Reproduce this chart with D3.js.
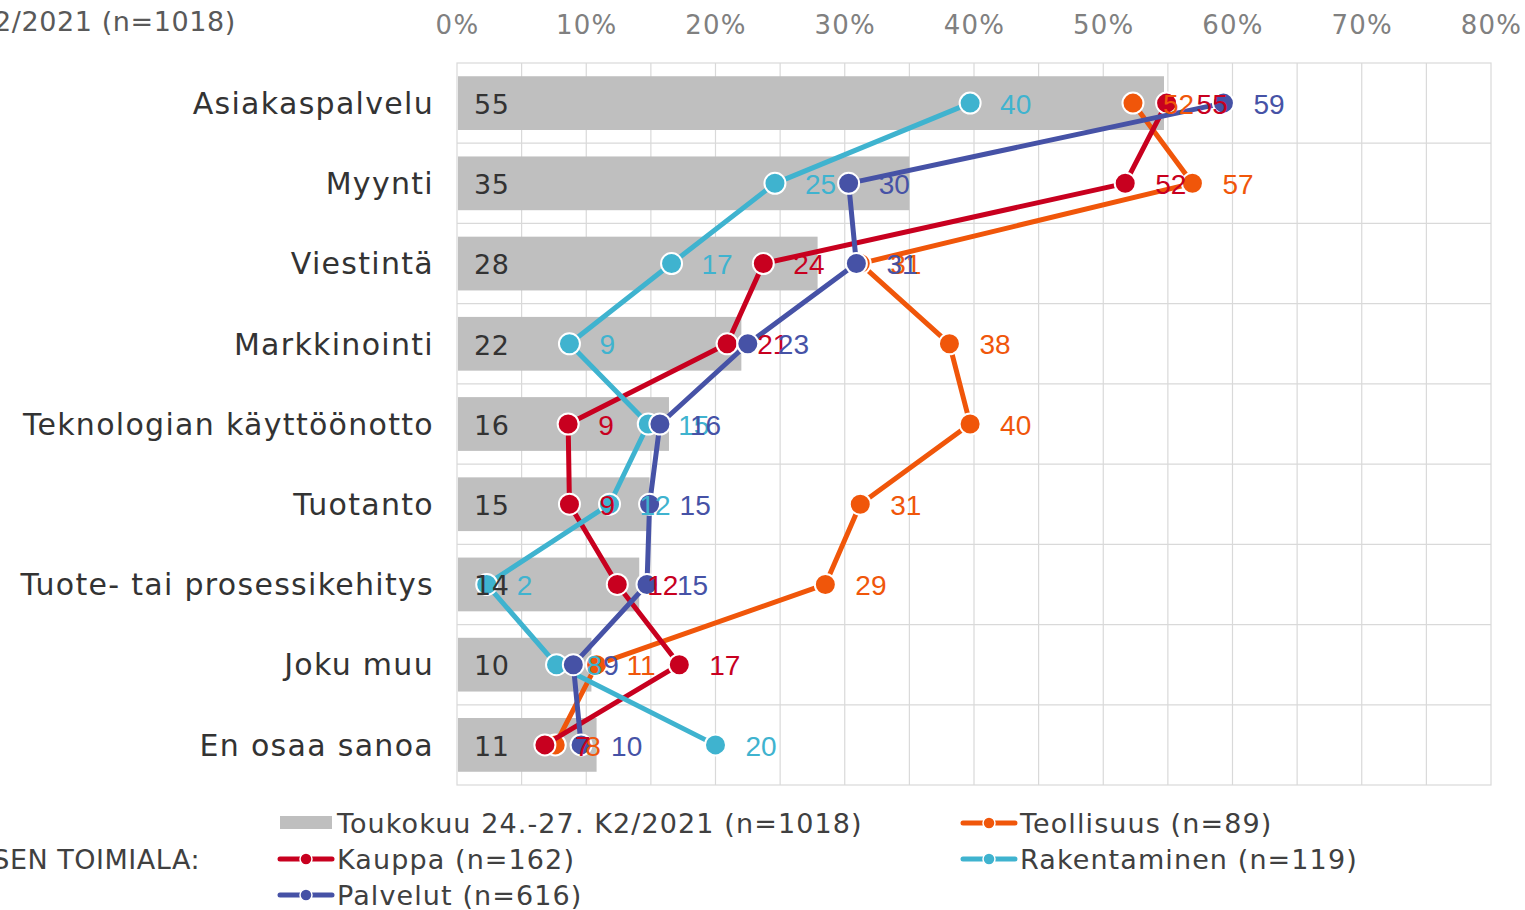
<!DOCTYPE html>
<html>
<head>
<meta charset="utf-8">
<script src="https://cdn.jsdelivr.net/npm/d3@7"></script>
<style>
  body { margin: 0; background: #fff; }
  svg { display: block; }
</style>
</head>
<body>
<svg id="chart" width="1525" height="910"></svg>
<script>
const categories = [
  "Asiakaspalvelu",
  "Myynti",
  "Viestintä",
  "Markkinointi",
  "Teknologian käyttöönotto",
  "Tuotanto",
  "Tuote- tai prosessikehitys",
  "Joku muu",
  "En osaa sanoa"
];

const kaikki = [54.7, 35.0, 27.9, 22.0, 16.4, 14.9, 14.1, 10.4, 10.8];
const teollisuus = [52.3, 56.9, 31.2, 38.1, 39.7, 31.2, 28.5, 10.8, 7.6];
const kauppa = [54.9, 51.7, 23.7, 20.9, 8.6, 8.7, 12.4, 17.2, 6.8];
const rakentaminen = [39.7, 24.6, 16.6, 8.7, 14.8, 11.8, 2.3, 7.7, 20.0];
const palvelut = [59.3, 30.3, 30.9, 22.5, 15.7, 14.9, 14.7, 9.0, 9.6];

const xTicks = [0, 10, 20, 30, 40, 50, 60, 70, 80];

const barName = "Toukokuu 24.-27. K2/2021 (n=1018)";
const groupTitle = "YRITYKSEN TOIMIALA:";

// drawing order = series order in the original
const lineSeries = [
  { name: "Teollisuus (n=89)", values: teollisuus, color: "#f0560a" },
  { name: "Kauppa (n=162)", values: kauppa, color: "#c8001f" },
  { name: "Rakentaminen (n=119)", values: rakentaminen, color: "#3fb3cf" },
  { name: "Palvelut (n=616)", values: palvelut, color: "#4652a6" }
];

const svg = d3.select("#chart");
const plot = { left: 457, right: 1491, top: 63, bottom: 785 };

const x = d3.scaleLinear().domain([0, 80]).range([plot.left, plot.right]);
const y = d3.scaleBand().domain(categories).range([plot.top, plot.bottom]).paddingInner(0.33).paddingOuter(0.165);
const yc = d => y(d) + y.bandwidth() / 2;

const verdana = "Verdana, 'DejaVu Sans', sans-serif";
const arial = "'Liberation Sans', Arial, sans-serif";

// grid
const grid = svg.append("g");
grid.selectAll("line.v")
  .data(d3.range(5, 80, 5))
  .join("line")
  .attr("x1", d => x(d)).attr("x2", d => x(d))
  .attr("y1", plot.top).attr("y2", plot.bottom)
  .attr("stroke", "#d9d9d9").attr("stroke-width", 1.2);
const edges = d3.range(categories.length + 1).map(i => plot.top + i * (plot.bottom - plot.top) / categories.length);
grid.selectAll("line.h")
  .data(edges.slice(1, -1))
  .join("line")
  .attr("x1", plot.left).attr("x2", plot.right)
  .attr("y1", d => d).attr("y2", d => d)
  .attr("stroke", "#d9d9d9").attr("stroke-width", 1.2);
grid.append("rect")
  .attr("x", plot.left).attr("y", plot.top)
  .attr("width", plot.right - plot.left).attr("height", plot.bottom - plot.top)
  .attr("fill", "none").attr("stroke", "#d9d9d9").attr("stroke-width", 1.2);

// top axis
const xAxis = svg.append("g")
  .attr("transform", `translate(0,${plot.top - 29})`)
  .call(d3.axisTop(x).tickValues(xTicks).tickFormat(d => d + "%").tickSize(0).tickPadding(0));
xAxis.select(".domain").remove();
xAxis.selectAll("text")
  .attr("font-family", verdana).attr("font-size", 26).attr("letter-spacing", 1.3)
  .attr("fill", "#808080").attr("dy", 0);

// category labels
svg.append("g").selectAll("text")
  .data(categories)
  .join("text")
  .attr("x", plot.left - 23)
  .attr("y", d => yc(d))
  .attr("dy", "0.36em")
  .attr("text-anchor", "end")
  .attr("font-family", verdana).attr("font-size", 30).attr("letter-spacing", 1.3)
  .attr("fill", "#333")
  .text(d => d);

// title of bar series, clipped at the left edge
svg.append("text")
  .attr("x", 236).attr("y", 31)
  .attr("text-anchor", "end")
  .attr("font-family", verdana).attr("font-size", 27).attr("letter-spacing", 0.6)
  .attr("fill", "#595959")
  .text(barName);

// bars
svg.append("g").selectAll("rect")
  .data(kaikki)
  .join("rect")
  .attr("x", x(0) + 1)
  .attr("y", (d, i) => y(categories[i]))
  .attr("width", d => x(d) - x(0) - 1)
  .attr("height", y.bandwidth())
  .attr("fill", "#bfbfbf");

// lines + markers
const line = d3.line().x(d => x(d.v)).y(d => yc(d.c));
lineSeries.forEach(s => {
  const pts = s.values.map((v, i) => ({ v, c: categories[i] }));
  const g = svg.append("g");
  g.append("path")
    .datum(pts)
    .attr("d", line)
    .attr("fill", "none")
    .attr("stroke", s.color)
    .attr("stroke-width", 5)
    .attr("stroke-linejoin", "round");
  g.selectAll("circle")
    .data(pts)
    .join("circle")
    .attr("cx", d => x(d.v)).attr("cy", d => yc(d.c))
    .attr("r", 10.5)
    .attr("fill", s.color)
    .attr("stroke", "#fff").attr("stroke-width", 2);
});

// bar value labels
svg.append("g").selectAll("text")
  .data(kaikki)
  .join("text")
  .attr("x", x(0) + 17)
  .attr("y", (d, i) => yc(categories[i]))
  .attr("dy", "0.4em")
  .attr("font-family", verdana).attr("font-size", 27).attr("letter-spacing", 0.5)
  .attr("fill", "#333")
  .text(d => Math.round(d));

// line value labels
lineSeries.forEach(s => {
  svg.append("g").selectAll("text")
    .data(s.values)
    .join("text")
    .attr("x", d => x(d) + 30)
    .attr("y", (d, i) => yc(categories[i]))
    .attr("dy", "0.38em")
    .attr("font-family", arial).attr("font-size", 28).attr("fill", s.color)
    .text(d => Math.round(d));
});

// legend
const legend = svg.append("g")
  .attr("font-family", verdana).attr("font-size", 27).attr("letter-spacing", 1.1)
  .attr("fill", "#404040");
const rowY = [823, 859, 895];
const legendItems = [
  { name: barName, bar: true, col: 0, row: 0 },
  { ...lineSeries[0], col: 1, row: 0 },
  { ...lineSeries[1], col: 0, row: 1 },
  { ...lineSeries[2], col: 1, row: 1 },
  { ...lineSeries[3], col: 0, row: 2 }
];
const colX = [280, 963];
legendItems.forEach(it => {
  const lx = colX[it.col], ly = rowY[it.row];
  if (it.bar) {
    legend.append("rect").attr("x", lx).attr("y", ly - 7).attr("width", 52).attr("height", 13).attr("fill", "#bfbfbf");
  } else {
    legend.append("line").attr("x1", lx).attr("x2", lx + 52).attr("y1", ly).attr("y2", ly)
      .attr("stroke", it.color).attr("stroke-width", 5).attr("stroke-linecap", "round");
    legend.append("circle").attr("cx", lx + 26).attr("cy", ly).attr("r", 6).attr("fill", it.color)
      .attr("stroke", "#fff").attr("stroke-width", 1.5);
  }
  legend.append("text").attr("x", lx + 57).attr("y", ly).attr("dy", "0.36em").text(it.name);
});
legend.append("text")
  .attr("x", 200).attr("y", rowY[1]).attr("dy", "0.36em")
  .attr("text-anchor", "end")
  .attr("letter-spacing", 0.5)
  .text(groupTitle);
</script>
</body>
</html>
